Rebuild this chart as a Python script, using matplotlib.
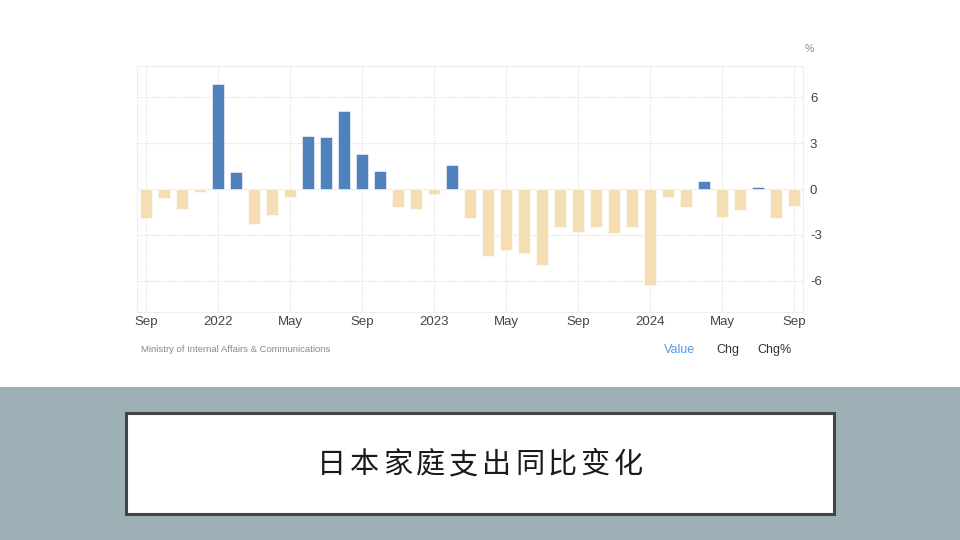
import matplotlib
matplotlib.use("Agg")
import matplotlib.pyplot as plt
from matplotlib.patches import Rectangle

months = ["Sep 2021", "Oct 2021", "Nov 2021", "Dec 2021",
          "Jan 2022", "Feb 2022", "Mar 2022", "Apr 2022", "May 2022", "Jun 2022",
          "Jul 2022", "Aug 2022", "Sep 2022", "Oct 2022", "Nov 2022", "Dec 2022",
          "Jan 2023", "Feb 2023", "Mar 2023", "Apr 2023", "May 2023", "Jun 2023",
          "Jul 2023", "Aug 2023", "Sep 2023", "Oct 2023", "Nov 2023", "Dec 2023",
          "Jan 2024", "Feb 2024", "Mar 2024", "Apr 2024", "May 2024", "Jun 2024",
          "Jul 2024", "Aug 2024", "Sep 2024"]
values = [-1.9, -0.6, -1.3, -0.2,
          6.9, 1.1, -2.3, -1.7, -0.5, 3.5,
          3.4, 5.1, 2.3, 1.2, -1.2, -1.3,
          -0.3, 1.6, -1.9, -4.4, -4.0, -4.2,
          -5.0, -2.5, -2.8, -2.5, -2.9, -2.5,
          -6.3, -0.5, -1.2, 0.5, -1.8, -1.4,
          0.1, -1.9, -1.1]
tick_idx = [0, 4, 8, 12, 16, 20, 24, 28, 32, 36]
tick_labels = ["Sep", "2022", "May", "Sep", "2023", "May", "Sep", "2024", "May", "Sep"]
y_ticks = [-6, -3, 0, 3, 6]
title = "日本家庭支出同比变化"
source = "Ministry of Internal Affairs & Communications"

POS = "#4f81bd"
NEG = "#f5deb3"

plt.rcParams["font.family"] = ["Liberation Sans", "DejaVu Sans"]

fig = plt.figure(figsize=(9.6, 5.4), dpi=100)
fig.patch.set_facecolor("white")

# bottom band
fig.add_artist(Rectangle((0, 0), 1, 153 / 540, transform=fig.transFigure,
                         facecolor="#9db0b6", edgecolor="none", zorder=0))
# white title box
fig.add_artist(Rectangle((126 / 960, 1 - 514 / 540), 708 / 960, 101 / 540,
                         transform=fig.transFigure, facecolor="white",
                         edgecolor="#444444", linewidth=2.2, zorder=1))
x0 = 315
for i, ch in enumerate(title):
    fig.text((x0 + 16.5 + 33 * i) / 960, 1 - 465 / 540, ch,
             fontsize=21, family=["Noto Sans CJK SC", "DejaVu Sans"],
             color="#1a1a1a", ha="center", va="center", zorder=2)

ax = fig.add_axes([137 / 960, 1 - 312 / 540, 666 / 960, 246 / 540])
x = list(range(len(values)))
colors = [POS if v >= 0 else NEG for v in values]
ax.bar(x, values, width=0.72, color=colors, edgecolor="white", linewidth=0.4, zorder=3)
ax.set_xlim(-0.5, len(values) - 0.5)
ax.set_ylim(-8.05, 8.05)

ax.set_xticks(tick_idx)
ax.set_xticklabels(tick_labels)
ax.set_yticks(y_ticks)
ax.set_yticklabels([str(t) for t in y_ticks])
ax.yaxis.tick_right()
ax.tick_params(axis="both", length=0, labelsize=9.5, colors="#444444")
ax.tick_params(axis="y", pad=5)
ax.tick_params(axis="x", pad=3)

ax.grid(True, color="#e8e8e8", linestyle=(0, (2, 1)), linewidth=0.8, zorder=0)
for s in ax.spines.values():
    s.set_color("#eeeeee")
    s.set_linewidth(0.8)

fig.text(809 / 960, 1 - 49 / 540, "%", fontsize=7.5, color="#888888",
         ha="center", va="center")
fig.text(141 / 960, 1 - 350 / 540, source, fontsize=6.8, color="#888888",
         ha="left", va="center")
fig.text(679 / 960, 1 - 350 / 540, "Value", fontsize=9, color="#4a9de8",
         ha="center", va="center")
fig.text(728 / 960, 1 - 350 / 540, "Chg", fontsize=9, color="#333333",
         ha="center", va="center")
fig.text(775 / 960, 1 - 350 / 540, "Chg%", fontsize=9, color="#333333",
         ha="center", va="center")

fig.savefig("out.png", dpi=100, facecolor=fig.get_facecolor())
